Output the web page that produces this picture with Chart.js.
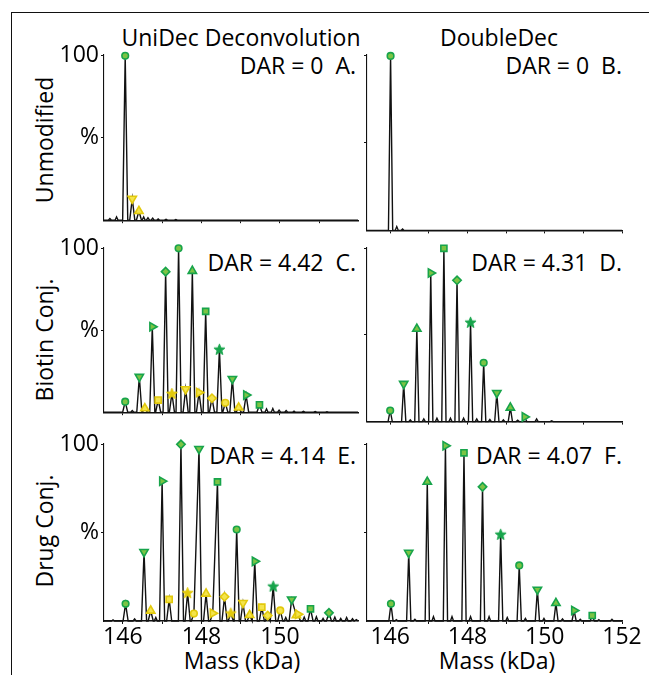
<!DOCTYPE html>
<html>
<head>
<meta charset="utf-8">
<script src="https://cdn.jsdelivr.net/npm/chart.js@4.4.1/dist/chart.umd.min.js"></script>
<style>
  body { margin: 0; background: #fff; }
  #page { position: relative; width: 649px; height: 675px; overflow: hidden;
          font-family: 'Open Sans', sans-serif; color: #000; }
  #frame { position: absolute; left: 11px; top: 12px; width: 700px; height: 700px;
           border-left: 1.5px solid #111; border-top: 1.5px solid #111; }
  .lbl { position: absolute; font-size: 23px; line-height: 23px; white-space: pre; }
  .c { transform: translate(-50%, -50%); }
  .r { transform: translate(-100%, -50%); }
  .v { transform: translate(-50%, -50%) rotate(-90deg); }
  canvas { position: absolute; }
</style>
</head>
<body>
<div id="page">
  <div id="frame"></div>
  <div class="lbl c" style="left:241px;top:37px">UniDec Deconvolution</div>
  <div class="lbl c" style="left:499px;top:37px">DoubleDec</div>
  <div class="lbl v" style="left:44px;top:140px">Unmodified</div>
  <div class="lbl v" style="left:44px;top:340px">Biotin Conj.</div>
  <div class="lbl v" style="left:44px;top:531px">Drug Conj.</div>
  <div class="lbl c" style="left:242px;top:660px">Mass (kDa)</div>
  <div class="lbl c" style="left:497px;top:660px">Mass (kDa)</div>
  <div class="lbl r" style="left:356px;top:65px">DAR = 0  A.</div>
  <div class="lbl r" style="left:622px;top:65px">DAR = 0  B.</div>
  <div class="lbl r" style="left:356px;top:262px">DAR = 4.42  C.</div>
  <div class="lbl r" style="left:622px;top:262px">DAR = 4.31  D.</div>
  <div class="lbl r" style="left:356px;top:455px">DAR = 4.14  E.</div>
  <div class="lbl r" style="left:622px;top:455px">DAR = 4.07  F.</div>
  <canvas id="pA"></canvas><canvas id="pB"></canvas>
  <canvas id="pC"></canvas><canvas id="pD"></canvas>
  <canvas id="pE"></canvas><canvas id="pF"></canvas>
</div>
<script>
// axis ticks
const massTicks = [146, 147, 148, 149, 150, 151, 152];
const massLabels = ['146', '148', '150', '152'];
const yTickValues = [50, 100];
const yTickLabels = ['%', '100'];

// A. UniDec, unmodified
const aMainMass = [146.06], aMainInt = [99.5], aMainShape = ['o'];
const aSubMass = [146.24, 146.41], aSubInt = [13, 5.5], aSubShape = ['v', '^'];
const aNoiseMass = [145.67, 145.84, 146.53, 146.64, 146.76, 146.9, 147.1, 147.35];
const aNoiseInt = [1, 2, 2, 1.5, 1.2, 0.8, 0.6, 0.4];

// B. DoubleDec, unmodified
const bMainMass = [146.01], bMainInt = [99.5], bMainShape = ['o'];
const bNoiseMass = [146.17, 146.32], bNoiseInt = [2.2, 0.8];

// C. UniDec, biotin
const cMainMass = [146.06, 146.42, 146.75, 147.09, 147.42, 147.77, 148.11, 148.46, 148.79, 149.14, 149.48];
const cMainInt = [6.4, 21.6, 52, 85.6, 99.8, 86, 61.4, 38.3, 20.3, 10.4, 4.5];
const cMainShape = ['o', 'v', '>', 'd', 'o', '^', 's', '*', 'v', '>', 's'];
const cSubMass = [146.56, 146.90, 147.25, 147.60, 147.94, 148.27, 148.61, 148.95];
const cSubInt = [2.3, 7.4, 11.4, 14, 12, 8.5, 5.7, 2.8];
const cSubShape = ['^', 's', '*', 'v', '>', 'd', 'o', '^'];
const cNoiseMass = [146.24, 149.66, 149.82, 149.98, 150.16, 150.36, 150.6, 150.9, 151.2];
const cNoiseInt = [1, 2, 2.2, 1.2, 1, 0.7, 0.5, 0.4, 0.3];

// D. DoubleDec, biotin
const dMainMass = [146.0, 146.35, 146.69, 147.05, 147.39, 147.73, 148.08, 148.42, 148.76, 149.11, 149.48];
const dMainInt = [6.4, 21.8, 53.4, 85.6, 99.8, 81.4, 57.2, 33.9, 16.5, 8, 2.7];
const dMainShape = ['o', 'v', '^', '>', 's', 'd', '*', 'o', 'v', '^', '>'];
const dNoiseMass = [146.52, 146.87, 147.21, 147.56, 147.9, 148.24, 148.58, 148.93, 149.3, 149.79, 150.18];
const dNoiseInt = [1, 1.5, 2, 2, 2, 1.5, 1.2, 1, 0.8, 1.5, 0.5];

// E. UniDec, drug
const eMainMass = [146.07, 146.54, 147.00, 147.48, 147.94, 148.41, 148.90, 149.36, 149.83, 150.30, 150.78, 151.25];
const eMainInt = [9.7, 39, 79, 99.8, 97.2, 78.6, 51.7, 33.7, 19.7, 12.2, 6.9, 4.6];
const eMainShape = ['o', 'v', '>', 'd', 'v', 's', 'o', '>', '*', 'v', 's', 'd'];
const eSubMass = [146.71, 147.18, 147.65, 147.81, 148.12, 148.29, 148.59, 148.75, 149.06, 149.23, 149.54, 149.69, 150.01, 150.42, 150.46];
const eSubInt = [5.8, 12.2, 16, 4.2, 15.4, 4.4, 13.7, 4.5, 10.2, 3.3, 7.8, 3.1, 6, 3.2, 3.8];
const eSubShape = ['^', 's', '*', 'o', '^', '>', 'd', '*', 'v', '^', 's', 'd', 'o', '^', '>'];
const eNoiseMass = [145.75, 146.3, 146.84, 150.15, 150.62, 150.93, 151.1, 151.4, 151.55, 151.7, 151.85, 151.95];
const eNoiseInt = [0.6, 1.2, 2, 2, 2.2, 2.4, 1.5, 2.2, 1.5, 2, 1.3, 0.8];

// F. DoubleDec, drug
const fMainMass = [146.02, 146.48, 146.96, 147.43, 147.91, 148.39, 148.86, 149.34, 149.81, 150.29, 150.76, 151.23];
const fMainInt = [9.7, 38.6, 78.6, 99, 95, 75.8, 49, 31.4, 17.7, 10.1, 5.9, 3.1];
const fMainShape = ['o', 'v', '^', '>', 's', 'd', '*', 'o', 'v', '^', '>', 's'];
const fNoiseMass = [146.16, 146.64, 147.12, 147.6, 148.08, 148.56, 149.03, 149.5, 149.98, 150.46, 150.92, 151.4, 151.74];
const fNoiseInt = [0.8, 1, 2.5, 2.5, 2.5, 2.5, 2, 1.5, 1.5, 1.2, 1, 0.8, 1];

const INK = '#111';
const GREEN = ['#7cc444', '#17a44b'];   // face, edge
const YELLOW = ['#f4e44c', '#e2c90c'];
const FONT = { family: 'Open Sans', size: 23 };

function starCanvas(face, edge) {
  const c = document.createElement('canvas');
  c.width = 13; c.height = 13;
  const g = c.getContext('2d');
  g.beginPath();
  for (let i = 0; i < 10; i++) {
    const r = i % 2 ? 2.4 : 5.8;
    const a = -Math.PI / 2 + i * Math.PI / 5;
    g.lineTo(6.5 + r * Math.cos(a), 7 + r * Math.sin(a));
  }
  g.closePath();
  g.fillStyle = edge; g.fill();
  g.strokeStyle = edge; g.lineWidth = 1; g.stroke();
  return c;
}

const STYLE = {
  'o': ['circle', 0, 3.3],
  'v': ['triangle', 180, 4.8],
  '^': ['triangle', 0, 4.8],
  '>': ['triangle', 90, 4.8],
  's': ['rect', 0, 4.3],
  'd': ['rectRot', 0, 4.2],
  '*': [null, 0, 5]
};

function markers(mass, inten, shapes, col) {
  const star = starCanvas(col[0], col[1]);
  return {
    data: mass.map((m, i) => ({ x: m, y: inten[i] })),
    showLine: false,
    pointStyle: shapes.map(s => s === '*' ? star : STYLE[s][0]),
    pointRotation: shapes.map(s => STYLE[s][1]),
    pointRadius: shapes.map(s => STYLE[s][2]),
    pointBackgroundColor: col[0],
    pointBorderColor: col[1],
    pointBorderWidth: 1.6,
    clip: false,
    order: 0
  };
}

// spectrum trace: each read peak drawn as a narrow spike on the baseline
function trace(groups, xmin, xmax) {
  const peaks = [];
  groups.forEach(([mass, inten, w]) => mass.forEach((m, i) => peaks.push([m, inten[i], w])));
  peaks.sort((a, b) => a[0] - b[0]);
  const pts = [{ x: xmin, y: 0 }];
  peaks.forEach(([m, h, w]) => {
    const last = pts[pts.length - 1];
    if (m - w > last.x) pts.push({ x: m - w, y: 0 });
    else if (last.y === 0 && pts.length > 1) pts.pop();
    pts.push({ x: m, y: h }, { x: m + w, y: 0 });
  });
  pts.push({ x: xmax, y: 0 });
  return {
    data: pts, borderColor: INK, borderWidth: 1.4, pointRadius: 0,
    tension: 0, clip: false, order: 5
  };
}

function panel(id, box, xr, datasets, leftCol, bottomRow) {
  const [L, T, R, B] = box;
  const yw = 60, top = 16, right = 24, xh = bottomRow ? 44 : 4;
  const cv = document.getElementById(id);
  cv.width = yw + (R - L) + right;
  cv.height = top + (B - T) + xh;
  cv.style.left = (L - yw) + 'px';
  cv.style.top = (T - top) + 'px';
  const gridOpts = { display: true, drawOnChartArea: false, drawTicks: true, tickLength: 3, color: INK, lineWidth: 1 };
  new Chart(cv, {
    type: 'line',
    data: { datasets },
    options: {
      responsive: false, animation: false, events: [],
      layout: { padding: { left: 0, top: top, right: right, bottom: 0 } },
      plugins: { legend: { display: false }, tooltip: { enabled: false } },
      scales: {
        x: {
          type: 'linear', min: xr[0], max: xr[1],
          afterBuildTicks: s => { s.ticks = massTicks.filter(v => v >= s.min && v <= s.max).map(v => ({ value: v })); },
          afterFit: s => { s.height = xh; },
          grid: gridOpts,
          border: { display: true, color: INK, width: 1.4 },
          ticks: {
            display: bottomRow, autoSkip: false, maxRotation: 0, padding: 0,
            color: '#000', font: FONT,
            callback: v => massLabels.includes(String(v)) ? String(v) : ''
          }
        },
        y: {
          min: 0, max: 100,
          afterBuildTicks: s => { s.ticks = yTickValues.map(v => ({ value: v })); },
          afterFit: s => { s.width = yw; },
          grid: gridOpts,
          border: { display: true, color: INK, width: 1.1 },
          ticks: {
            display: leftCol, padding: 2, color: '#000', font: FONT,
            callback: v => yTickLabels[yTickValues.indexOf(v)] || ''
          }
        }
      }
    }
  });
}

const ROWS = [[55, 232], [248, 424], [444, 621]];
const LEFT = [104, 358], RIGHT = [367, 622];
const XL = [145.52, 151.99], XR = [145.4, 152.0];
const UW = 0.065, DW = 0.055, NW = 0.04;

panel('pA', [LEFT[0], ROWS[0][0], LEFT[1], ROWS[0][1]], XL, [
  markers(aMainMass, aMainInt, aMainShape, GREEN),
  markers(aSubMass, aSubInt, aSubShape, YELLOW),
  trace([[aMainMass, aMainInt, UW], [aSubMass, aSubInt, UW], [aNoiseMass, aNoiseInt, NW]], XL[0], XL[1])
], true, false);

panel('pB', [RIGHT[0], ROWS[0][0], RIGHT[1], ROWS[0][1]], XR, [
  markers(bMainMass, bMainInt, bMainShape, GREEN),
  trace([[bMainMass, bMainInt, DW], [bNoiseMass, bNoiseInt, NW]], XR[0], XR[1])
], false, false);

panel('pC', [LEFT[0], ROWS[1][0], LEFT[1], ROWS[1][1]], XL, [
  markers(cMainMass, cMainInt, cMainShape, GREEN),
  markers(cSubMass, cSubInt, cSubShape, YELLOW),
  trace([[cMainMass, cMainInt, UW], [cSubMass, cSubInt, UW], [cNoiseMass, cNoiseInt, NW]], XL[0], XL[1])
], true, false);

panel('pD', [RIGHT[0], ROWS[1][0], RIGHT[1], ROWS[1][1]], XR, [
  markers(dMainMass, dMainInt, dMainShape, GREEN),
  trace([[dMainMass, dMainInt, DW], [dNoiseMass, dNoiseInt, NW]], XR[0], XR[1])
], false, false);

panel('pE', [LEFT[0], ROWS[2][0], LEFT[1], ROWS[2][1]], XL, [
  markers(eMainMass, eMainInt, eMainShape, GREEN),
  markers(eSubMass, eSubInt, eSubShape, YELLOW),
  trace([[eMainMass, eMainInt, UW], [eSubMass, eSubInt, UW], [eNoiseMass, eNoiseInt, NW]], XL[0], XL[1])
], true, true);

panel('pF', [RIGHT[0], ROWS[2][0], RIGHT[1], ROWS[2][1]], XR, [
  markers(fMainMass, fMainInt, fMainShape, GREEN),
  trace([[fMainMass, fMainInt, DW], [fNoiseMass, fNoiseInt, NW]], XR[0], XR[1])
], false, true);
</script>
</body>
</html>
